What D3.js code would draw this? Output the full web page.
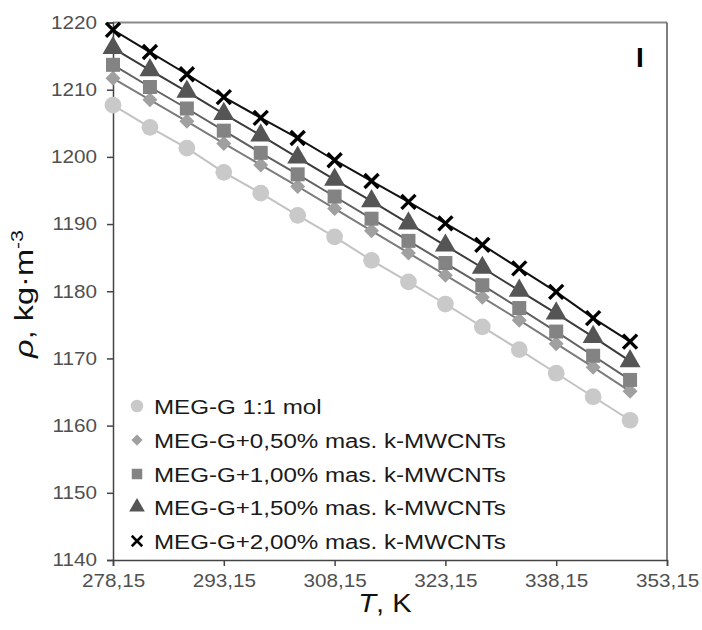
<!DOCTYPE html>
<html>
<head>
<meta charset="utf-8">
<script src="https://cdn.jsdelivr.net/npm/d3@7"></script>
<style>
  html, body { margin: 0; padding: 0; background: #fff; }
  svg { display: block; font-family: "Liberation Sans", Arial, sans-serif; }
</style>
</head>
<body>
<svg id="chart" width="702" height="630"></svg>
<script>
// Temperatures, K
const temperatures = [278.15, 283.15, 288.15, 293.15, 298.15, 303.15, 308.15, 313.15,
  318.15, 323.15, 328.15, 333.15, 338.15, 343.15, 348.15];

// Density, kg·m-3
const megG = [1207.7, 1204.4, 1201.3, 1197.7, 1194.6, 1191.3, 1188.1, 1184.6,
  1181.4, 1178.1, 1174.7, 1171.3, 1167.8, 1164.3, 1160.8];
const cnt050 = [1211.7, 1208.5, 1205.3, 1202.0, 1198.8, 1195.6, 1192.3, 1189.0,
  1185.7, 1182.4, 1179.1, 1175.7, 1172.2, 1168.7, 1165.1];
const cnt100 = [1213.7, 1210.4, 1207.2, 1203.9, 1200.6, 1197.4, 1194.1, 1190.8,
  1187.5, 1184.2, 1180.9, 1177.5, 1174.0, 1170.4, 1166.8];
const cnt150 = [1216.2, 1212.9, 1209.7, 1206.4, 1203.2, 1199.9, 1196.6, 1193.4,
  1190.1, 1186.8, 1183.5, 1180.1, 1176.7, 1173.2, 1169.6];
const cnt200 = [1218.9, 1215.6, 1212.3, 1208.9, 1205.8, 1202.8, 1199.5, 1196.4,
  1193.3, 1190.1, 1186.9, 1183.4, 1179.9, 1176.0, 1172.5];

const seriesNames = [
  "MEG-G 1:1 mol",
  "MEG-G+0,50% mas. k-MWCNTs",
  "MEG-G+1,00% mas. k-MWCNTs",
  "MEG-G+1,50% mas. k-MWCNTs",
  "MEG-G+2,00% mas. k-MWCNTs"
];
const xTicks = [278.15, 293.15, 308.15, 323.15, 338.15, 353.15];
const yTicks = [1140, 1150, 1160, 1170, 1180, 1190, 1200, 1210, 1220];

const series = [
  { name: seriesNames[0], values: megG,   shape: "circle",   fill: "#c9c9c9", line: "#c2c2c2" },
  { name: seriesNames[1], values: cnt050, shape: "diamond",  fill: "#a0a0a0", line: "#7c7c7c" },
  { name: seriesNames[2], values: cnt100, shape: "square",   fill: "#838383", line: "#606060" },
  { name: seriesNames[3], values: cnt150, shape: "triangle", fill: "#555555", line: "#3a3a3a" },
  { name: seriesNames[4], values: cnt200, shape: "cross",    fill: "#000000", line: "#111111" }
];

const svg = d3.select("#chart");
const plotLeft = 113, plotRight = 667, plotTop = 22.5, plotBottom = 560;
// Text in this figure is set slightly wide
const wide = 1.15;

const x = d3.scaleLinear().domain([278.15, 353.15]).range([plotLeft, plotRight]);
const y = d3.scaleLinear().domain([1140, 1220]).range([plotBottom, plotTop]);

// Frame: top and right edges
svg.append("line").attr("x1", plotLeft).attr("x2", plotRight).attr("y1", plotTop).attr("y2", plotTop)
  .attr("stroke", "#8a8a8a").attr("stroke-width", 2);
svg.append("line").attr("x1", plotRight).attr("x2", plotRight).attr("y1", plotTop).attr("y2", plotBottom)
  .attr("stroke", "#555").attr("stroke-width", 1.5);

// Axes
const fmtComma = d => d3.format(".2f")(d).replace(".", ",");
const yAxis = svg.append("g").attr("transform", `translate(${plotLeft},0)`)
  .call(d3.axisLeft(y).tickValues(yTicks).tickSize(6).tickPadding(8).tickFormat(d3.format("d")));
const xAxis = svg.append("g").attr("transform", `translate(0,${plotBottom})`)
  .call(d3.axisBottom(x).tickValues(xTicks).tickSize(6).tickPadding(8).tickFormat(fmtComma));
[xAxis, yAxis].forEach(g => {
  g.select(".domain").attr("stroke", "#444").attr("stroke-width", 1.5);
  g.selectAll(".tick line").attr("stroke", "#444").attr("stroke-width", 1.5);
  g.selectAll(".tick text").attr("fill", "#505050").style("font-size", "18px")
    .attr("transform", `scale(${wide},1)`)
    .style("font-family", "'Liberation Sans', Arial, sans-serif");
});

// Axis titles
const yTitle = svg.append("text")
  .attr("transform", "translate(33,294) rotate(-90) scale(1.25,1)")
  .attr("text-anchor", "middle")
  .style("font-size", "26px").attr("fill", "#111");
yTitle.append("tspan").style("font-style", "italic").text("ρ");
yTitle.append("tspan").text(", kg·m");
yTitle.append("tspan").attr("dy", -10).style("font-size", "17px").text("-3");

const xTitle = svg.append("text")
  .attr("transform", `translate(${x(315.65) - 5},612) scale(1.12,1)`)
  .attr("text-anchor", "middle")
  .style("font-size", "26px").attr("fill", "#111");
xTitle.append("tspan").style("font-style", "italic").text("T");
xTitle.append("tspan").text(", K");

// Panel label
svg.append("text").attr("x", 640).attr("y", 67).attr("text-anchor", "middle")
  .style("font-size", "28px").style("font-weight", "bold").attr("fill", "#000").text("I");

// Marker drawing
function drawMarker(g, shape, fill, scale) {
  const s = scale || 1;
  if (shape === "cross") {
    const h = 7 * s;
    g.append("path").attr("d", `M${-h},${-h}L${h},${h}M${-h},${h}L${h},${-h}`)
      .attr("stroke", fill).attr("stroke-width", 3.4 * s).attr("fill", "none");
    return;
  }
  if (shape === "diamond") {
    const h = 7.5 * s;
    g.append("path").attr("d", `M0,${-h}L${h},0L0,${h}L${-h},0Z`).attr("fill", fill);
    return;
  }
  const types = { circle: d3.symbolCircle, square: d3.symbolSquare, triangle: d3.symbolTriangle };
  const sizes = { circle: 220, square: 196, triangle: 190 };
  g.append("path").attr("d", d3.symbol().type(types[shape]).size(sizes[shape] * s * s)())
    .attr("fill", fill);
}

const line = d3.line().x(d => x(d[0])).y(d => y(d[1]));

series.forEach(s => {
  const pts = temperatures.map((t, i) => [t, s.values[i]]);
  const g = svg.append("g");
  g.append("path").datum(pts).attr("d", line)
    .attr("fill", "none").attr("stroke", s.line).attr("stroke-width", 2);
  pts.forEach(p => {
    const m = g.append("g").attr("transform", `translate(${x(p[0])},${y(p[1])})`);
    drawMarker(m, s.shape, s.fill, 1);
  });
});

// Legend
const legendY = [406, 440, 474, 507, 541];
series.forEach((s, i) => {
  const m = svg.append("g").attr("transform", `translate(137,${legendY[i]})`);
  drawMarker(m, s.shape, s.fill, 0.75);
  svg.append("text").attr("transform", `translate(154,${legendY[i]}) scale(${wide},1)`)
    .attr("dy", "0.36em")
    .style("font-size", "21px").attr("fill", "#1a1a1a").text(s.name);
});
</script>
</body>
</html>
